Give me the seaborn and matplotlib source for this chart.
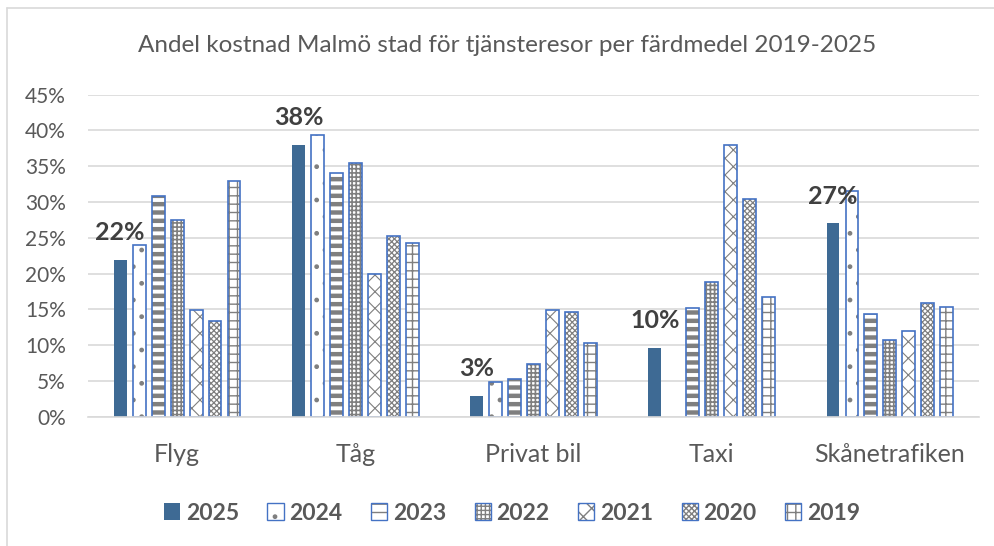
import numpy as np
import pandas as pd
import seaborn as sns
import matplotlib
matplotlib.use("Agg")
import matplotlib.pyplot as plt
from matplotlib.patches import Rectangle, Patch
from matplotlib.lines import Line2D
from matplotlib.legend_handler import HandlerPatch

# data (share of cost, per mode of travel)
fardmedel = ["Flyg", "Tåg", "Privat bil", "Taxi", "Skånetrafiken"]
ar = ["2025", "2024", "2023", "2022", "2021", "2020", "2019"]
v2025 = [0.219, 0.380, 0.029, 0.096, 0.270]
v2024 = [0.240, 0.393, 0.049, 0.0, 0.315]
v2023 = [0.309, 0.340, 0.052, 0.152, 0.144]
v2022 = [0.275, 0.355, 0.073, 0.188, 0.107]
v2021 = [0.149, 0.199, 0.149, 0.380, 0.120]
v2020 = [0.134, 0.253, 0.146, 0.304, 0.159]
v2019 = [0.330, 0.243, 0.103, 0.167, 0.154]
varden = [v2025, v2024, v2023, v2022, v2021, v2020, v2019]

rows = []
for y, vals in zip(ar, varden):
    for f, v in zip(fardmedel, vals):
        rows.append([f, y, v])
df = pd.DataFrame(rows, columns=["Färdmedel", "År", "Andel"])

solid = "#3E6A94"
blue = "#4472C4"
gray = "#7F7F7F"
hatches = [None, ".", "--", "++++", "xx", "xxxxxx", "++"]
hatch_lw = [1.0, 1.0, 3.2, 1.2, 0.8, 0.9, 1.0]

sns.set_style("white")
plt.rcParams["font.family"] = ["Lato", "DejaVu Sans"]
plt.rcParams["hatch.linewidth"] = 1.0

fig = plt.figure(figsize=(9.95, 5.46), dpi=100)
ax = fig.add_axes([88 / 995, 1 - 416.7 / 546, (979 - 88) / 995, (416.7 - 94.7) / 546])

sns.barplot(data=df, x="Färdmedel", y="Andel", hue="År", hue_order=ar,
            order=fardmedel, palette=["white"] * 7, width=0.745, gap=0.32,
            errorbar=None, legend=False, ax=ax)

for i, cont in enumerate(ax.containers):
    for p in cont.patches:
        h = p.get_height()
        if i == 0:
            p.set_facecolor(solid)
            p.set_edgecolor(solid)
            p.set_linewidth(0)
            continue
        p.set_facecolor("white")
        p.set_linewidth(0)
        if h <= 0:
            continue
        z = p.get_zorder()
        with plt.rc_context({"hatch.linewidth": hatch_lw[i]}):
            fill = Rectangle(p.get_xy(), p.get_width(), h, facecolor="white",
                             edgecolor=gray, hatch=hatches[i], linewidth=0, zorder=z + 0.05)
        if hasattr(fill, "set_hatch_linewidth"):
            fill.set_hatch_linewidth(hatch_lw[i])
        ax.add_patch(fill)
        ax.add_patch(Rectangle(p.get_xy(), p.get_width(), h, fill=False,
                               edgecolor=blue, linewidth=1.2, zorder=z + 0.1))

# data labels on 2025 bars
for p, v in zip(ax.containers[0].patches, v2025):
    ax.annotate(f"{v:.0%}", (p.get_x() + p.get_width() / 2, p.get_height()),
                xytext=(0, 19.5), textcoords="offset points", ha="center", va="center",
                fontsize=18, fontweight="bold", color="#404040")

ax.set_ylim(0, 0.45)
ax.set_xlim(-0.5, 4.5)
ax.set_yticks(np.arange(0, 0.451, 0.05))
ax.set_yticklabels([f"{int(round(t * 100))}%" for t in np.arange(0, 0.451, 0.05)])
ax.yaxis.grid(True, color="#D9D9D9", linewidth=1.2)
ax.set_axisbelow(True)
for s in ["left", "right", "top"]:
    ax.spines[s].set_visible(False)
ax.spines["bottom"].set_color("#D9D9D9")
ax.spines["bottom"].set_linewidth(1.2)
ax.tick_params(axis="y", length=0, pad=16, labelsize=15, labelcolor="#595959")
ax.tick_params(axis="x", length=0, pad=19, labelsize=18, labelcolor="#595959")
ax.set_xlabel("")
ax.set_ylabel("")

fig.text(507 / 995, 1 - 45 / 546, "Andel kostnad Malmö stad för tjänsteresor per färdmedel 2019-2025",
         ha="center", va="center", fontsize=17.5, color="#595959")

# legend
handles = []
for i, y in enumerate(ar):
    if i == 0:
        handles.append(Patch(facecolor=solid, edgecolor=solid, linewidth=0, label=y))
    else:
        handles.append(Patch(facecolor="white", edgecolor=gray, hatch=hatches[i], linewidth=0, label=y))


class BorderHandler(HandlerPatch):
    def create_artists(self, legend, orig_handle, xdescent, ydescent, width, height, fontsize, trans):
        arts = super().create_artists(legend, orig_handle, xdescent, ydescent, width, height, fontsize, trans)
        if orig_handle.get_facecolor()[0] == 1.0:
            r = Rectangle((-xdescent, -ydescent), width, height, fill=False,
                          edgecolor=blue, linewidth=1.0, transform=trans)
            arts.append(r)
        return arts


leg = fig.legend(handles=handles, loc="center", bbox_to_anchor=(512 / 995, 1 - 513 / 546),
                 ncol=7, frameon=False, handlelength=0.7, handleheight=0.7,
                 handletextpad=0.25, columnspacing=1.25,
                 prop={"size": 16.5, "weight": "bold"},
                 handler_map={Patch: BorderHandler()})
for t in leg.get_texts():
    t.set_color("#595959")

# chart area border (cropped on right and bottom)
fig.add_artist(Line2D([7 / 995, 7 / 995], [0, 1 - 8 / 546], color="#D9D9D9", linewidth=1.2))
fig.add_artist(Line2D([7 / 995, 1], [1 - 8 / 546, 1 - 8 / 546], color="#D9D9D9", linewidth=1.2))

fig.savefig("out.png", dpi=100)
